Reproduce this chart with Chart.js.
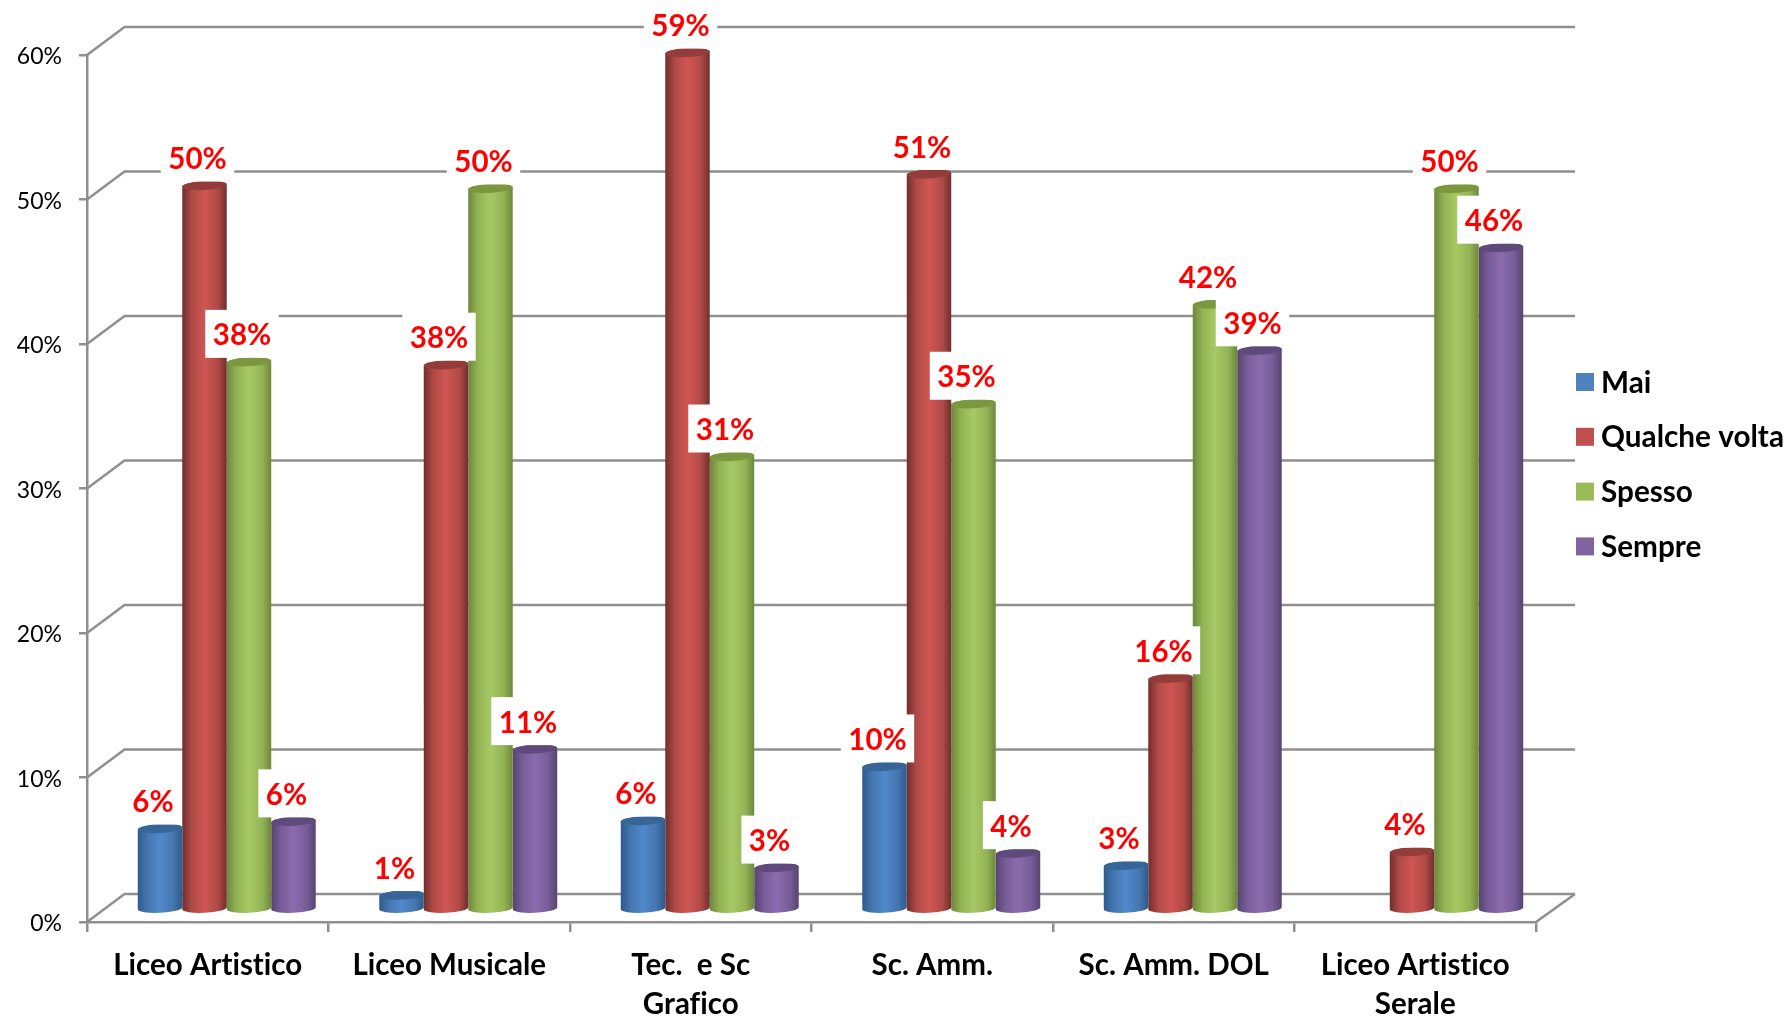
<!DOCTYPE html>
<html><head><meta charset="utf-8">
<style>html,body{margin:0;padding:0;background:#fff}#w{width:1789px;height:1019px;position:relative}</style>
<script src="https://cdn.jsdelivr.net/npm/chart.js@4/dist/chart.umd.js"></script>
</head><body><div id="w"><canvas id="c" width="1789" height="1019"></canvas></div>
<script>
const categories = ['Liceo Artistico','Liceo Musicale',['Tec.  e Sc','Grafico'],'Sc. Amm.','Sc. Amm. DOL',['Liceo Artistico','Serale']];
const seriesNames = ['Mai','Qualche volta','Spesso','Sempre'];
const mai = [5.6,1.0,6.15,9.9,3.05,null];
const qualcheVolta = [50.1,37.7,59.3,50.9,16.0,4.0];
const spesso = [37.9,49.9,31.35,35.0,41.9,49.9];
const sempre = [6.1,11.1,2.9,3.9,38.7,45.8];
const shownLabels = [[6,1,6,10,3,null],[50,38,59,51,16,4],[38,50,31,35,42,50],[6,11,3,4,39,46]];
const yTicks = [0,10,20,30,40,50,60];
const seriesColors = ['#4F81BD','#C0504D','#9BBB59','#8064A2'];
const shades = [
 {edge:'#2e5a8e',mid:'#4576ae',light:'#5089cc',top:'#386597'},
 {edge:'#6f2f2d',mid:'#b04a47',light:'#cf5653',top:'#943c3a'},
 {edge:'#6d873c',mid:'#93b354',light:'#a6c965',top:'#7c983f'},
 {edge:'#574370',mid:'#775d98',light:'#8c6bae',top:'#5f4a7d'}];
const GRID='#8f8f8f', DX=19, DY=-12.5, WX=37.5, WY=-28, RY=4.5, TILT=-0.05;

Chart.BarElement.prototype.draw=function(ctx){
  const {x,y,base,width}=this.getProps(['x','y','base','width']);
  const s=shades[seriesColors.indexOf(this.options.backgroundColor)];
  const l=x-width/2+DX,r=x+width/2+DX,cx=x+DX,t=y+DY,b=base+DY;
  const g=ctx.createLinearGradient(l,0,r,0);
  g.addColorStop(0,s.edge);g.addColorStop(.22,s.mid);g.addColorStop(.5,s.light);g.addColorStop(.8,s.mid);g.addColorStop(1,s.edge);
  ctx.save();
  ctx.fillStyle=g;
  ctx.beginPath();
  ctx.ellipse(cx,b,width/2,RY,TILT,0,Math.PI);
  ctx.lineTo(l,t);
  ctx.ellipse(cx,t,width/2,RY,TILT,Math.PI,2*Math.PI,false);
  ctx.lineTo(r,b);
  ctx.closePath();ctx.fill();
  ctx.fillStyle=s.top;
  ctx.beginPath();ctx.ellipse(cx,t,width/2,RY,TILT,0,2*Math.PI);ctx.fill();
  ctx.restore();
};

const wall3d={id:'wall3d',
  beforeDraw(chart){chart.ctx.letterSpacing='0.01px';},
  beforeDatasetsDraw(chart){
    const {ctx,scales:{x,y},chartArea:a}=chart;
    ctx.save();ctx.strokeStyle=GRID;ctx.lineWidth=2.5;ctx.lineJoin='round';
    y.ticks.forEach((t,i)=>{
      const p=y.getPixelForTick(i);
      ctx.beginPath();ctx.moveTo(a.left,p);ctx.lineTo(a.left+WX,p+WY);ctx.lineTo(a.right+WX+1.5,p+WY);ctx.stroke();
    });
    const p0=y.getPixelForValue(0);
    ctx.beginPath();ctx.moveTo(a.right,p0);ctx.lineTo(a.right+WX+1.5,p0+WY);ctx.stroke();
    ctx.restore();
  },
  afterDatasetsDraw(chart){
    const {ctx}=chart;
    ctx.save();
    ctx.font='bold 29.5px Lato';ctx.textAlign='center';ctx.textBaseline='middle';
    chart.data.datasets.forEach((d,si)=>{
      chart.getDatasetMeta(si).data.forEach((el,i)=>{
        if(d.data[i]==null)return;
        const txt=shownLabels[si][i]+'%';
        const cx=el.x+DX-7,cy=el.y+DY-4-24;
        const w=ctx.measureText(txt).width+15;
        ctx.fillStyle='#fff';ctx.fillRect(cx-w/2,cy-24,w,48);
        ctx.fillStyle='#ff0000';ctx.fillText(txt,cx,cy+2);
      });
    });
    ctx.textAlign='left';ctx.font='bold 29.7px Lato';
    seriesNames.forEach((n,i)=>{
      const yy=382+i*54.8;
      ctx.fillStyle=seriesColors[i];ctx.fillRect(1576,yy-9,18,18);
      ctx.fillStyle='#000';ctx.fillText(n,1601,yy+1);
    });
    ctx.restore();
  }};

const names=[mai,qualcheVolta,spesso,sempre];
new Chart(document.getElementById('c'),{
  type:'bar',
  data:{labels:categories,datasets:names.map((v,i)=>({label:seriesNames[i],data:v,backgroundColor:seriesColors[i],categoryPercentage:0.737,barPercentage:1,clip:false}))},
  options:{responsive:false,animation:false,
    layout:{padding:{top:55,right:253,left:0,bottom:0}},
    plugins:{legend:{display:false},tooltip:{enabled:false},title:{display:false}},
    scales:{
      x:{afterFit(s){s.height=97;},
        grid:{drawOnChartArea:false,tickLength:10,color:GRID,lineWidth:2.5},
        border:{color:GRID,width:2.5},
        ticks:{color:'#000',font:{family:'Lato',weight:'bold',size:29.5,lineHeight:1.33},padding:14,maxRotation:0,autoSkip:false}},
      y:{min:0,max:60,afterFit(s){s.width=87;},
        afterBuildTicks(s){s.ticks=yTicks.map(v=>({value:v}));},
        grid:{drawOnChartArea:false,tickLength:8,color:GRID,lineWidth:2.5},
        border:{color:GRID,width:2.5},
        ticks:{color:'#000',font:{family:'Lato',size:23},padding:17,labelOffset:2,callback:v=>v+'%'}}
    }
  },
  plugins:[wall3d]
});
</script></body></html>
